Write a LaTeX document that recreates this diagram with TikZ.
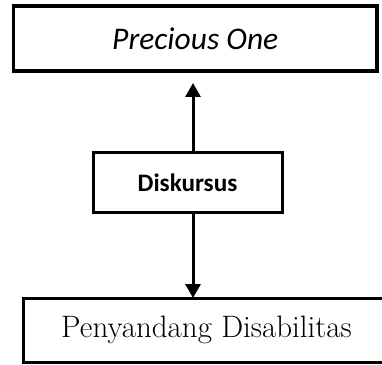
\documentclass[tikz,border=0pt]{standalone}
\usepackage{fontspec}
\newfontfamily\carlito{Carlito}
\setmainfont{Latin Modern Roman}
\usetikzlibrary{arrows.meta}
\begin{document}
\begin{tikzpicture}[x=1pt,y=1pt,
  boxstyle/.style={draw=black, fill=white, inner sep=0pt, outer sep=0pt},
  arr/.style={line width=3pt, -{Triangle[width=15pt,length=14pt]}}]
\useasboundingbox (0,0) rectangle (382,364);
\clip (0,0) rectangle (382,364);
\node[boxstyle, line width=3.5pt, minimum width=363.5pt, minimum height=65pt,
  font=\carlito\itshape\fontsize{31.5}{36}\selectfont] (top) at (195.25,325.5) {Precious One};
\node[boxstyle, line width=3pt, minimum width=189pt, minimum height=60pt,
  font=\carlito\bfseries\fontsize{25.2}{30}\selectfont] (d) at (187.5,181) {Diskursus};
\node[boxstyle, line width=3pt, minimum width=367pt, minimum height=64pt,
  font=\fontsize{31}{36}\selectfont] (bot) at (206.5,34) {Penyandang Disabilitas};
\coordinate (ax) at (193,0);
\coordinate (upend) at (193,281);
\draw[arr] (d.north -| ax) -- (upend);
\draw[arr] (d.south -| ax) -- (bot.north -| ax);
\end{tikzpicture}
\end{document}
